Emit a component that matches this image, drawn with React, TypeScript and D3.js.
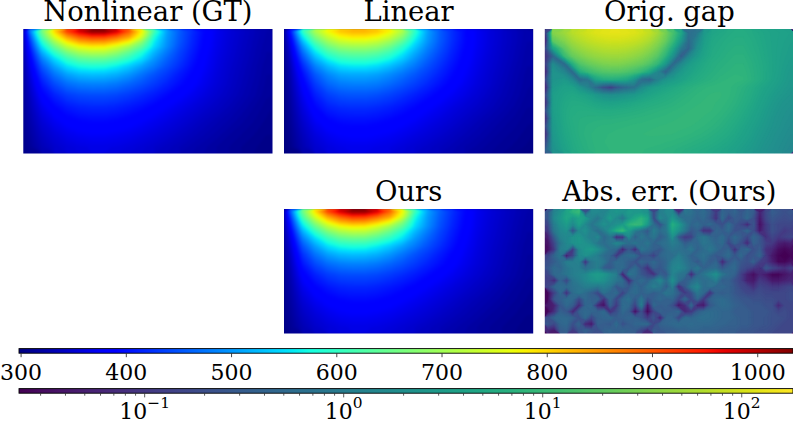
import React, { useEffect, useRef } from "react";
import * as d3 from "d3";

const titles = ["Nonlinear (GT)", "Linear", "Orig. gap", "Ours", "Abs. err. (Ours)"];
const tempTicks = [300, 400, 500, 600, 700, 800, 900, 1000];
const tempDomain = [298.5, 1034];
const errDomain = [0.0235, 182];
const errMajor = [0.1, 1, 10, 100];

// where the samples sit, in image pixels of a panel
const sampleX = [1, 6.2, 18.7, 31.1, 43.6, 56, 68.5, 81, 93.4, 105.9, 118.3, 130.8, 143.3, 155.7, 168.2, 180.6, 193.1, 205.6, 218, 230.5, 243];
const sampleY = [2, 7.5, 12.5, 17.5, 23, 29.5, 37, 45.5, 55, 66, 78.5, 92.5, 106, 118];
const gapX = [1.5, 8, 19.5, 27.3, 35, 42.8, 50.6, 58.4, 66.2, 73.9, 81.7, 89.5, 97.3, 105, 112.8, 120.6, 128.4, 136.2, 143.9, 151.7, 159.5, 167.3, 175, 182.8, 190.6, 198.4, 206.2, 213.9, 221.7, 229.5, 237.3, 245];

const nonlinear = [
  [345, 470, 660, 800, 920, 985, 1030, 1030, 985, 900, 780, 620, 510, 460, 425, 395, 372, 358, 347, 337, 328],
  [345, 440, 630, 755, 845, 900, 925, 922, 890, 845, 750, 585, 505, 458, 422, 393, 371, 357, 346, 336, 327],
  [342, 420, 590, 700, 785, 835, 852, 850, 820, 775, 685, 565, 500, 455, 420, 391, 370, 356, 345, 335, 326],
  [340, 405, 555, 650, 725, 765, 780, 778, 745, 700, 640, 550, 495, 450, 417, 389, 369, 355, 344, 334, 325],
  [337, 390, 520, 600, 665, 705, 720, 718, 690, 645, 590, 525, 480, 442, 412, 386, 367, 354, 343, 333, 324],
  [334, 378, 485, 550, 605, 640, 650, 648, 628, 595, 555, 503, 465, 435, 407, 383, 365, 352, 342, 332, 323],
  [330, 367, 455, 510, 555, 578, 585, 583, 565, 540, 510, 480, 450, 425, 400, 380, 363, 350, 340, 330, 321],
  [327, 357, 430, 475, 508, 525, 530, 528, 518, 500, 475, 452, 432, 410, 392, 375, 360, 348, 338, 329, 320],
  [324, 348, 408, 445, 470, 482, 486, 485, 478, 465, 450, 433, 416, 399, 385, 370, 357, 346, 336, 327, 319],
  [321, 340, 388, 415, 435, 444, 447, 447, 442, 433, 422, 410, 397, 385, 373, 362, 351, 342, 333, 325, 317],
  [318, 333, 370, 392, 407, 415, 418, 418, 414, 407, 399, 389, 379, 369, 360, 351, 343, 335, 327, 320, 314],
  [314, 326, 355, 373, 385, 392, 395, 395, 392, 387, 380, 372, 364, 356, 348, 340, 333, 327, 321, 316, 311],
  [311, 320, 344, 358, 369, 375, 378, 378, 375, 371, 365, 359, 352, 345, 338, 332, 326, 320, 316, 312, 308],
  [308, 315, 335, 348, 357, 362, 365, 365, 363, 359, 354, 348, 342, 336, 330, 325, 320, 316, 312, 309, 305],
];

const linear = [
  [325, 400, 600, 710, 775, 815, 830, 830, 815, 780, 715, 600, 510, 460, 425, 397, 375, 360, 348, 338, 329],
  [322, 380, 560, 670, 735, 775, 790, 790, 775, 740, 680, 580, 505, 460, 425, 397, 375, 360, 348, 338, 329],
  [320, 368, 525, 630, 695, 733, 745, 745, 730, 695, 640, 560, 500, 457, 423, 396, 375, 360, 348, 338, 328],
  [318, 358, 495, 590, 655, 690, 700, 700, 688, 655, 600, 540, 490, 452, 420, 394, 374, 359, 347, 337, 327],
  [316, 350, 470, 555, 615, 645, 655, 655, 643, 615, 570, 520, 478, 445, 415, 391, 372, 358, 346, 336, 326],
  [314, 342, 445, 520, 570, 600, 610, 610, 598, 575, 540, 500, 465, 436, 410, 388, 370, 356, 345, 335, 325],
  [312, 335, 420, 485, 525, 552, 560, 560, 550, 530, 505, 478, 450, 426, 403, 384, 367, 354, 343, 333, 324],
  [310, 330, 400, 455, 490, 510, 515, 515, 508, 493, 475, 455, 435, 415, 396, 379, 364, 351, 341, 331, 322],
  [308, 326, 385, 433, 465, 480, 485, 485, 480, 468, 453, 437, 420, 403, 388, 373, 360, 349, 338, 329, 321],
  [306, 322, 372, 412, 437, 449, 453, 453, 448, 439, 427, 414, 401, 388, 376, 365, 354, 344, 335, 327, 319],
  [305, 318, 360, 393, 413, 421, 424, 424, 420, 413, 404, 394, 383, 373, 363, 354, 346, 338, 330, 323, 316],
  [303, 314, 348, 375, 390, 398, 400, 400, 397, 392, 385, 377, 368, 360, 352, 344, 336, 329, 323, 318, 313],
  [302, 310, 338, 360, 373, 380, 383, 383, 380, 376, 370, 363, 356, 349, 342, 335, 329, 323, 318, 314, 310],
  [300, 307, 331, 350, 361, 367, 370, 370, 367, 364, 358, 352, 346, 340, 334, 328, 323, 318, 314, 311, 307],
];

const ours = [
  [340, 450, 655, 795, 915, 985, 1032, 1030, 982, 895, 775, 615, 512, 462, 426, 396, 372, 358, 347, 337, 328],
  [338, 425, 625, 750, 840, 895, 928, 924, 888, 843, 748, 582, 505, 458, 423, 394, 371, 357, 346, 336, 327],
  [335, 405, 585, 695, 780, 832, 854, 850, 818, 772, 682, 565, 500, 454, 420, 392, 370, 356, 345, 335, 326],
  [332, 390, 550, 645, 720, 762, 780, 776, 744, 698, 638, 550, 495, 450, 417, 390, 369, 355, 344, 334, 325],
  [330, 375, 515, 596, 662, 702, 718, 716, 688, 645, 590, 525, 480, 442, 412, 387, 367, 354, 343, 333, 324],
  [327, 362, 482, 548, 603, 638, 650, 648, 626, 594, 555, 503, 466, 435, 407, 384, 365, 352, 342, 332, 323],
  [324, 352, 452, 508, 553, 577, 585, 583, 564, 540, 510, 480, 450, 425, 401, 380, 363, 350, 340, 330, 321],
  [321, 343, 427, 474, 507, 524, 530, 528, 518, 500, 476, 452, 432, 411, 392, 375, 360, 348, 338, 329, 320],
  [318, 336, 406, 444, 469, 481, 486, 485, 478, 465, 450, 433, 416, 400, 385, 370, 357, 346, 336, 327, 319],
  [316, 330, 386, 414, 434, 444, 447, 447, 442, 433, 422, 410, 397, 385, 373, 362, 351, 342, 333, 325, 317],
  [313, 325, 368, 391, 406, 415, 418, 418, 414, 407, 399, 389, 379, 369, 360, 351, 343, 335, 327, 320, 314],
  [310, 320, 353, 372, 384, 391, 395, 395, 392, 387, 380, 372, 364, 356, 348, 340, 333, 327, 321, 316, 311],
  [308, 316, 342, 357, 368, 375, 378, 378, 375, 371, 365, 359, 352, 345, 338, 332, 326, 320, 316, 312, 308],
  [306, 312, 333, 347, 356, 362, 365, 365, 363, 359, 354, 348, 342, 336, 330, 325, 320, 316, 312, 309, 305],
];

const origGap = [
  [.15, 35, 50, 70, 85, 100, 115, 125, 130, 130, 125, 115, 100, 80, 55, 30, 14, 5, .6, .8, 3, 4.5, 5, 5.5, 6, 6, 5.5, 5, 4.5, 4.2, 4, 3.8],
  [.08, 20, 35, 52, 65, 78, 88, 95, 100, 100, 95, 88, 75, 60, 40, 24, 10, 3, .5, 1.4, 3.5, 5, 5.5, 6, 6.3, 6.3, 5.8, 5.2, 4.6, 4.2, 3.9, 3.6],
  [.2, 4, 20, 35, 46, 55, 62, 68, 70, 70, 67, 60, 52, 40, 28, 14, 5, 1, .4, 2, 4, 5.3, 5.8, 6.4, 6.8, 6.8, 6, 5.4, 4.7, 4.2, 3.8, 3.5],
  [.1, .4, 10, 22, 30, 38, 44, 48, 50, 50, 47, 42, 35, 27, 18, 8, 2.2, .3, 1.5, 3, 4.5, 5.6, 6.2, 6.8, 7.2, 7.2, 6.4, 5.6, 4.8, 4.2, 3.7, 3.4],
  [.15, 1.8, .5, 6, 16, 22, 27, 31, 33, 33, 30, 26, 22, 16, 9, 3, .5, 1.6, 3.2, 4.3, 5.3, 6.2, 6.8, 7.2, 7.6, 7.6, 6.8, 5.8, 5, 4.2, 3.6, 3.2],
  [.08, 2.5, 1.5, .5, 6, 10, 14, 17, 18, 18, 16, 13, 9, 5, 1.6, .4, 1.6, 3, 4, 5, 5.8, 6.6, 7.2, 7.6, 8, 8, 7, 6, 5, 4.2, 3.5, 3],
  [.2, 2.5, 3, 1.8, .5, .8, 4, 6, 6.5, 6, 5, 2.5, .5, .4, 1.2, 2.5, 3.2, 4, 5, 5.8, 6.6, 7.2, 7.8, 8.2, 8.4, 8.2, 7.2, 6, 5, 4, 3.4, 2.9],
  [.08, 3, 4, 4, 2.5, 1.4, .5, .2, .12, .3, .5, .7, 1.8, 3, 3.8, 4.5, 5.2, 6, 6.8, 7.5, 8, 8.4, 8.6, 8.4, 7.8, 7, 6, 5, 4.2, 3.6, 3.1, 2.7],
  [.2, 3.5, 4.5, 5, 4.6, 4, 3, 2.2, 2, 2.2, 2.6, 3, 3.8, 4.5, 5.2, 5.8, 6.4, 7, 7.6, 8.2, 8.6, 8.8, 8.8, 8.4, 7.6, 6.6, 5.6, 4.6, 3.8, 3.2, 2.8, 2.5],
  [.1, 3.5, 5, 5.6, 5.6, 5.2, 4.6, 4.2, 4, 4.2, 4.6, 5, 5.5, 6, 6.4, 6.8, 7.2, 7.8, 8.2, 8.6, 8.8, 8.8, 8.6, 8, 7.2, 6.2, 5.2, 4.2, 3.5, 2.9, 2.5, 2.3],
  [.25, 3.5, 5.2, 6, 6.2, 6.2, 6, 5.8, 5.8, 6, 6.2, 6.5, 6.8, 7.2, 7.5, 7.8, 8.1, 8.4, 8.7, 8.9, 8.9, 8.7, 8.2, 7.5, 6.6, 5.6, 4.7, 3.9, 3.2, 2.7, 2.3, 2.1],
  [.1, 3.2, 5.2, 6.2, 6.6, 6.8, 6.9, 7, 7, 7.2, 7.4, 7.6, 7.8, 8, 8.2, 8.4, 8.6, 8.8, 8.9, 8.9, 8.6, 8.2, 7.6, 6.8, 6, 5.1, 4.3, 3.6, 3, 2.5, 2.2, 2],
  [.22, 3, 5, 6, 6.8, 7.2, 7.5, 7.7, 7.8, 8, 8.1, 8.3, 8.4, 8.6, 8.7, 8.8, 8.9, 8.9, 8.8, 8.5, 8.1, 7.6, 7, 6.2, 5.4, 4.6, 3.9, 3.3, 2.8, 2.4, 2.1, 1.9],
  [.1, 2.8, 4.8, 5.8, 6.8, 7.4, 7.8, 8, 8.2, 8.4, 8.5, 8.6, 8.7, 8.8, 8.8, 8.8, 8.7, 8.5, 8.2, 7.8, 7.4, 6.8, 6.2, 5.6, 4.9, 4.2, 3.6, 3, 2.6, 2.2, 2, 1.8],
  [.2, 2.5, 4.4, 5.5, 6.5, 7.2, 7.8, 8.1, 8.3, 8.5, 8.6, 8.6, 8.6, 8.5, 8.4, 8.2, 8, 7.7, 7.3, 6.9, 6.5, 6, 5.5, 5, 4.4, 3.8, 3.3, 2.8, 2.4, 2.1, 1.9, 1.7],
  [.4, 2.2, 4, 5.2, 6.2, 7, 7.6, 7.9, 8.2, 8.3, 8.3, 8.3, 8.2, 8, 7.8, 7.5, 7.2, 6.8, 6.4, 6, 5.6, 5.2, 4.8, 4.4, 3.9, 3.4, 3, 2.6, 2.2, 2, 1.8, 1.6],
];

const absErr = [
  [.5, 2.5, 4, 8, 14, 18, .4, 3, 3, 2.5, 4, 5, 4, 6, 5, 5, 4, .3, 2, 3, 3, .15, 1.5, 1.2, .8, 1, .6, .2, .8, .6, .8, .5, .8, .6, .1, .3, .6, .5, .4, .5],
  [.5, 3, 5, 9, 5, 8, 6, 2.5, 1.5, 3, 6, 3, 1.5, 5, 9, 14, 8, .3, 3, 2, 5, 2, 1, 1, .7, .9, .5, .15, 1, .3, .6, .5, .9, .4, .08, .3, .5, .4, .35, .4],
  [.3, 2, 4, 6, 3, 7, 3, 1.5, 2.5, 4, 3, 4, 6, 14, 18, 16, 5, 1, .4, 1.5, 12, 6, 2, .8, 1, .7, .9, .6, .4, 1, .5, .3, .12, .5, .06, .2, .4, .3, .3, .3],
  [.2, 1.5, 3, 4, .4, 3, 4, 2, 1, 2, 5, 12, 18, 6, 2, 1, .5, 2, 1, 1.5, 8, 4, 1.5, .5, .7, .15, .15, .8, .6, .9, .4, .5, .9, .4, .08, .2, .4, .3, .2, .25],
  [.1, .6, 2.5, 3, 4, 5, 3, 2, 3, .8, 1.5, .12, .15, 3, .6, 1.5, .9, 1.5, .6, 1, 4, .5, .2, .25, 1, 1.5, .9, .7, 1, .5, .9, .6, .3, .8, .5, .15, .3, .2, .25, .3],
  [.07, .3, 1.5, 3, 4, 5, 4, 3, 1.5, 1, 1.5, 3, 2, 1, 1.5, 1, 1.5, .7, 1, 1.2, 2, 1.5, .6, .9, .8, 1.5, 1.2, .8, 1, .3, .7, .4, .12, .7, .5, .25, .2, .1, .08, .1],
  [.06, .2, 2, 2.5, .2, 3, 5, 6, 4, 2, 1, .8, .1, .5, .12, 1.5, 1, .7, .5, 1, 1.5, 1.2, 1, 1.5, .7, 1, 1.6, 1, .6, .8, .15, .7, .9, .4, .6, .15, .12, .06, .05, .06],
  [.3, .8, 1.5, .08, .3, 3, 4, 3, 2, 1, .8, .2, .8, 1, 1, .4, .5, .25, .8, 1, 1, 2, 1.2, .7, .9, 1.2, .8, .5, .7, 1, .5, .9, .4, .5, .8, .2, .08, .05, .04, .05],
  [.4, .6, 1, 2, 2, 2.5, .15, 1.5, 2, 1.5, .6, 1, .9, .6, .4, .8, .6, .9, .6, .8, 2, 2.5, 1.5, .9, .5, 1, .6, .8, .12, .5, .8, .5, .4, .7, .25, .2, .1, .05, .05, .07],
  [.5, 1, .8, 1.5, 2, 2, 1, 1.5, 2, .6, .5, .9, 1, .5, 1, .4, .15, .7, .5, .9, 2.5, 3, 2, 1, 1.5, .7, .9, 1, .5, .8, .9, .4, .3, .2, .15, .5, .3, .2, .15, .25],
  [.3, .9, 1, 1.5, 2, 2.5, 3, 5, 6, 5, 3, 2, .1, 1.5, 1, .5, .3, .15, .7, .5, 2.5, 1.5, 1.2, .12, .8, 1.5, 2.5, 4, 1.5, .9, .7, .25, .1, .06, .12, .08, .05, .05, .07, .1],
  [.25, .12, .8, .3, 1.5, 2, 3, 4, 5, 4, 2.5, 1.5, 1, .12, .7, 1, .7, 1.5, 3, 1, 4, 1.2, .6, .9, 1.5, 1, 1.2, 2, .6, .7, .4, .25, .1, .08, .2, .15, .08, .08, .1, .12],
  [.3, .8, 1, .9, 1.2, 1.5, 2, 2, 1.5, 2, 1.5, .5, .8, .5, 1, .7, 1.2, 2, 1.5, .6, 2, .12, .5, 1.8, 3, 1, 1.2, .8, .9, .7, .5, .3, .25, .15, .3, .25, .2, .2, .25, .3],
  [.05, .25, .9, .15, 1, 1.5, 1, .6, .3, 1.2, .8, 1, .25, .8, 1, .7, .9, .6, .8, 1.5, 1.2, .6, .2, .4, 1.5, .9, .15, .7, .6, .7, .5, .4, .3, .3, .35, .3, .3, .3, .3, .35],
  [.05, .5, .7, 1, .9, .3, .9, .7, .8, .15, .9, .3, .9, 1.2, .5, 1.5, .4, .7, .9, .7, .8, .3, .9, .3, .8, .2, .7, .9, 1, .8, .6, .5, .5, .4, .4, .35, .35, .3, .3, .35],
  [.08, .1, .5, .9, .6, .12, .8, .9, .12, .06, .7, .2, 1, .9, .25, 2, .08, .9, .6, .7, .4, .07, .15, .9, .1, .08, .5, .8, 1, .9, .7, .6, .5, .5, .5, .4, .4, .12, .3, .3],
  [.05, .15, .7, .5, .12, .7, .9, .8, .7, 1, .15, .4, .9, .6, .06, .4, .05, .3, .7, .6, .7, .9, .12, .2, .6, .9, 1, .9, .8, .8, .6, .6, .6, .5, .5, .5, .4, .3, .35, .3],
  [.4, .8, .9, .9, .7, .4, .9, .3, .7, .8, .9, .6, .7, .8, .7, .5, .2, .5, .1, .8, .8, .3, 1, .8, 1, 1.1, 1, .9, .8, .8, .7, .6, .6, .5, .5, .45, .4, .4, .35, .3],
  [.5, .3, .8, .9, .4, .8, .12, .08, .7, .6, .5, 1, .4, .6, .8, .9, .9, .3, .7, .8, .9, 1, .9, 1, .9, .9, .9, .8, .8, .7, .7, .6, .6, .5, .5, .45, .4, .35, .3, .3],
  [.12, .08, .6, .7, .2, .5, .7, .5, .4, .7, .8, .7, .8, .7, .6, .3, .12, .6, .5, .6, .6, .7, .7, .8, .8, .7, .7, .7, .6, .6, .6, .5, .5, .45, .4, .4, .35, .3, .3, .3],
];

// my absErr readings came out a bit bright against the colour bar
const absErrReadingScale = 0.55;

const serif = "'DejaVu Serif'";
const panelW = 249.2;
const panelH = 124.4;

// matplotlib's jet, one linear scale per channel
const jetR = d3.scaleLinear().domain([0, 0.35, 0.66, 0.89, 1]).range([0, 0, 1, 1, 0.5]);
const jetG = d3.scaleLinear().domain([0, 0.125, 0.375, 0.64, 0.91, 1]).range([0, 0, 1, 1, 0, 0]);
const jetB = d3.scaleLinear().domain([0, 0.11, 0.34, 0.65, 1]).range([0.5, 1, 1, 0, 0]);
const jet = (t: number) => d3.rgb(jetR(t) * 255, jetG(t) * 255, jetB(t) * 255).formatRgb();

const tempColor = d3.scaleSequential(jet).domain(tempDomain).clamp(true);
const errT = d3.scaleLog().domain(errDomain).range([0, 1]).clamp(true);
const errColor = (v: number) => d3.interpolateViridis(errT(v));

const tempLevels = d3.range(296, 1040, 4);
const logLevels = d3.range(-2, 2.4, 0.03);

// grid index (contour space, sample i sits at i + 0.5) -> panel pixels
function gridScale(samples: number[] | null, n: number, size: number) {
  const at = samples ?? d3.range(n).map((i) => ((i + 0.5) * size) / n);
  return d3
    .scaleLinear()
    .domain([0, ...d3.range(n).map((i) => i + 0.5), n])
    .range([0, ...at, size]);
}

function Field({ grid, x0, y0, log, xs, ys, soften, gain = 1 }: any) {
  const rows = grid.length;
  const cols = grid[0].length;
  const values = grid.flat().map((v: number) => (log ? Math.log10(v * gain) : v));
  const contours = d3
    .contours()
    .size([cols, rows])
    .thresholds(log ? logLevels : tempLevels)(values);
  const sx = gridScale(xs, cols, panelW);
  const sy = gridScale(ys, rows, panelH);
  const path = d3.geoPath(
    d3.geoTransform({
      point(x, y) {
        this.stream.point(x0 + sx(x), y0 + sy(y));
      },
    })
  );
  const fillOf = (v: number) => (log ? errColor(10 ** v) : tempColor(v));
  const id = `soft-${x0}-${y0}`.replace(/\./g, "_");
  return (
    <g>
      <defs>
        <filter id={id} filterUnits="userSpaceOnUse" x={x0 - 4} y={y0 - 4} width={panelW + 8} height={panelH + 8} colorInterpolationFilters="sRGB">
          <feGaussianBlur stdDeviation={soften} />
        </filter>
        <clipPath id={`${id}-clip`}>
          <rect x={x0} y={y0} width={panelW} height={panelH} />
        </clipPath>
      </defs>
      <g clipPath={`url(#${id}-clip)`}>
        <g filter={`url(#${id})`}>
          {/* stacked >= regions, so later levels paint over earlier ones */}
          <rect x={x0 - 4} y={y0 - 4} width={panelW + 8} height={panelH + 8} fill={fillOf(d3.min(values) as number)} />
          {contours.map((c) => (
            <path key={c.value} d={path(c as any) ?? undefined} fill={fillOf(c.value)} stroke={fillOf(c.value)} strokeWidth={0.4} />
          ))}
        </g>
      </g>
    </g>
  );
}

function ColorBar({ id, y, scale, color, children }: any) {
  const [a, b] = scale.range();
  const stops = d3.range(0, 1.0001, 1 / 96);
  return (
    <g>
      <defs>
        <linearGradient id={id}>
          {stops.map((s) => (
            <stop key={s} offset={s} stopColor={color(scale.invert(a + s * (b - a)))} />
          ))}
        </linearGradient>
      </defs>
      <rect x={a} y={y} width={b - a} height={4.6} fill={`url(#${id})`} stroke="#000" strokeWidth={0.9} />
      {children}
    </g>
  );
}

export default function App() {
  const tempAxis = useRef<SVGGElement>(null);
  const errAxis = useRef<SVGGElement>(null);

  const tempX = d3.scaleLinear().domain(tempDomain).range([19, 793]);
  const errX = d3.scaleLog().domain(errDomain).range([19, 793]);

  useEffect(() => {
    const t = d3.select(tempAxis.current);
    t.selectAll("*").remove();
    t.call(d3.axisBottom(tempX).tickValues(tempTicks).tickSize(4).tickFormat(d3.format("d")) as any);
    t.select(".domain").remove();
    t.selectAll(".tick line").attr("stroke", "#333").attr("stroke-width", 0.9);
    t.selectAll(".tick text")
      .attr("font-family", serif)
      .attr("font-size", 22)
      .attr("fill", "#000")
      .attr("y", 26.8)
      .attr("dy", 0);

    const e = d3.select(errAxis.current);
    e.selectAll("*").remove();
    // every log tick inside the domain; only the decades carry labels
    const minor = errX.ticks().filter((v) => v >= errDomain[0] && v <= errDomain[1]);
    e.call(d3.axisBottom(errX).tickValues(minor).tickSize(2.5).tickFormat(() => "") as any);
    e.select(".domain").remove();
    e.selectAll(".tick line").attr("stroke", "#333").attr("stroke-width", 0.8);
    const major = e
      .selectAll(".tick")
      .filter((v: any) => errMajor.some((m) => Math.abs(m - v) < 1e-9));
    major.select("line").attr("y2", 4.2);
    major.select("text").each(function (v: any) {
      const text = d3.select(this);
      const power = Math.round(Math.log10(v));
      text
        .attr("font-family", serif)
        .attr("font-size", 22)
        .attr("fill", "#000")
        .attr("y", 25.8)
        .attr("dy", 0)
        .text("10");
      text
        .append("tspan")
        .attr("font-size", 15.4)
        .attr("dy", -10.5)
        .text(power < 0 ? `\u2212${-power}` : `${power}`);
    });
  }, []);

  const titleStyle = { fontFamily: serif, fontSize: 27.4, fill: "#000", textAnchor: "middle" } as any;
  const panelX = [23.3, 284, 544.8];
  const panelY = [29, 209];

  return (
    <svg width={793} height={425} style={{ position: "absolute", left: 0, top: 0, background: "#fff" }}>
      <Field grid={nonlinear} x0={panelX[0]} y0={panelY[0]} xs={sampleX} ys={sampleY} soften={1.2} />
      <Field grid={linear} x0={panelX[1]} y0={panelY[0]} xs={sampleX} ys={sampleY} soften={1.2} />
      <Field grid={origGap} x0={panelX[2]} y0={panelY[0]} log xs={gapX} soften={0.7} />
      <Field grid={ours} x0={panelX[1]} y0={panelY[1]} xs={sampleX} ys={sampleY} soften={1.2} />
      <Field grid={absErr} x0={panelX[2]} y0={panelY[1]} log soften={0.5} gain={absErrReadingScale} />

      <text x={147.9} y={21} style={titleStyle}>{titles[0]}</text>
      <text x={408.6} y={21} style={titleStyle}>{titles[1]}</text>
      <text x={669.4} y={21} style={titleStyle}>{titles[2]}</text>
      <text x={408.6} y={201} style={titleStyle}>{titles[3]}</text>
      <text x={669.4} y={201} style={titleStyle}>{titles[4]}</text>

      <ColorBar id="tempBar" y={348.6} scale={tempX} color={tempColor}>
        <g ref={tempAxis} transform="translate(0,353.2)" />
      </ColorBar>
      <ColorBar id="errBar" y={388.6} scale={errX} color={errColor}>
        <g ref={errAxis} transform="translate(0,393.2)" />
      </ColorBar>
    </svg>
  );
}
